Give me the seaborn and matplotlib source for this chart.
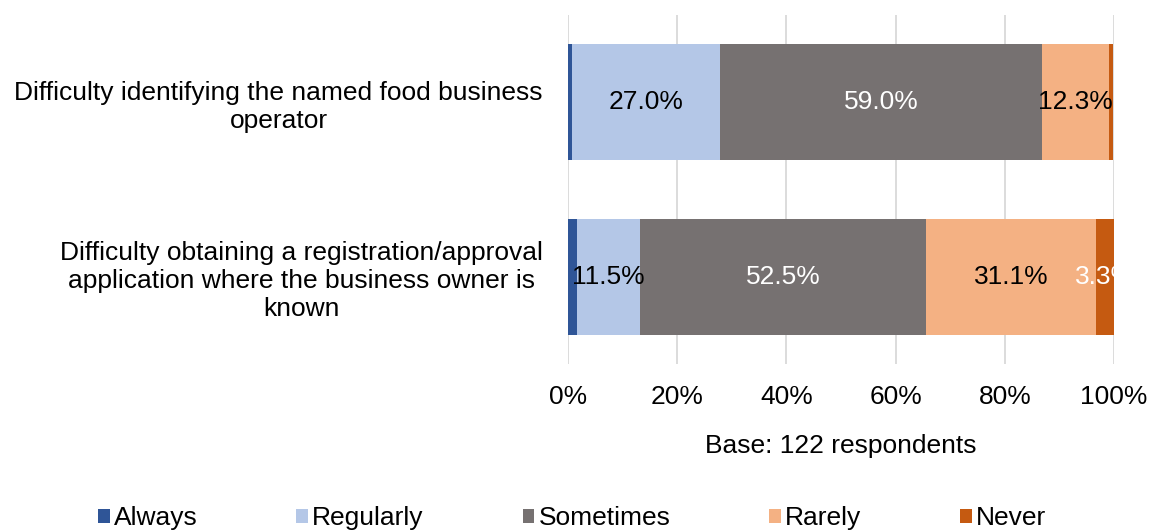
import numpy as np
import pandas as pd
import matplotlib
matplotlib.use("Agg")
import matplotlib.pyplot as plt
from matplotlib.patches import Patch
import seaborn as sns

# ---- data ----
categories = [
    "Difficulty identifying the named food business\noperator",
    "Difficulty obtaining a registration/approval\napplication where the business owner is\nknown",
]
series = ["Always", "Regularly", "Sometimes", "Rarely", "Never"]
always = [0.8, 1.6]
regularly = [27.0, 11.5]
sometimes = [59.0, 52.5]
rarely = [12.3, 31.1]
never = [0.8, 3.3]
colors = ["#2F5597", "#B4C7E7", "#767171", "#F4B183", "#C55A11"]
label_colors = ["black", "black", "white", "black", "white"]
xticks = [0, 20, 40, 60, 80, 100]
base_text = "Base: 122 respondents"

values = np.array([always, regularly, sometimes, rarely, never])  # series x categories
cum = np.cumsum(values, axis=0)

sns.set_theme(style="white")
plt.rcParams["font.family"] = ["Liberation Sans", "DejaVu Sans"]
plt.rcParams["text.color"] = "black"
plt.rcParams["axes.labelcolor"] = "black"
FS = 19

fig = plt.figure(figsize=(11.5, 5.3), dpi=100)
ax = fig.add_axes([568 / 1150, 1 - 364 / 530, (1114 - 568) / 1150, (364 - 15) / 530])

# overlay cumulative bars from the largest total down
for k in range(len(series) - 1, -1, -1):
    df = pd.DataFrame({"cat": categories, "val": cum[k]})
    sns.barplot(data=df, x="val", y="cat", orient="h", color=colors[k],
                saturation=1, width=0.667, linewidth=0, ax=ax, zorder=2)

# value labels
for k in range(len(series)):
    for i in range(len(categories)):
        v = values[k, i]
        if v >= 3:
            ax.text(cum[k, i] - v / 2, i, f"{v:.1f}%", ha="center", va="center",
                    color=label_colors[k], fontsize=FS, zorder=3)

ax.set_xlim(0, 100)
ax.set_ylim(1.5, -0.5)
ax.set_xticks(xticks)
ax.set_xticklabels([f"{t}%" for t in xticks], fontsize=FS)
ax.set_ylabel("")
ax.set_xlabel(base_text, fontsize=FS, labelpad=18, color="black")
for lab in ax.get_yticklabels():
    lab.set_fontsize(FS)
    lab.set_multialignment("center")
    lab.set_linespacing(1.2)
ax.tick_params(axis="x", length=0, pad=15, colors="black")
ax.tick_params(axis="y", length=0, pad=18, colors="black")
ax.grid(axis="x", color="#D9D9D9", linewidth=1.3, zorder=0)
ax.grid(axis="y", visible=False)
ax.set_axisbelow(True)
for s in ax.spines.values():
    s.set_visible(False)

handles = [Patch(facecolor=c, edgecolor="none") for c in colors]
fig.legend(handles, series, loc="center", bbox_to_anchor=(572 / 1150, 1 - 518 / 530),
           ncol=5, frameon=False, fontsize=FS, handlelength=0.45, handleheight=0.45,
           handletextpad=0.15, columnspacing=3.75, borderaxespad=0, borderpad=0,
           labelcolor="black")

fig.savefig("out.png", dpi=100)
